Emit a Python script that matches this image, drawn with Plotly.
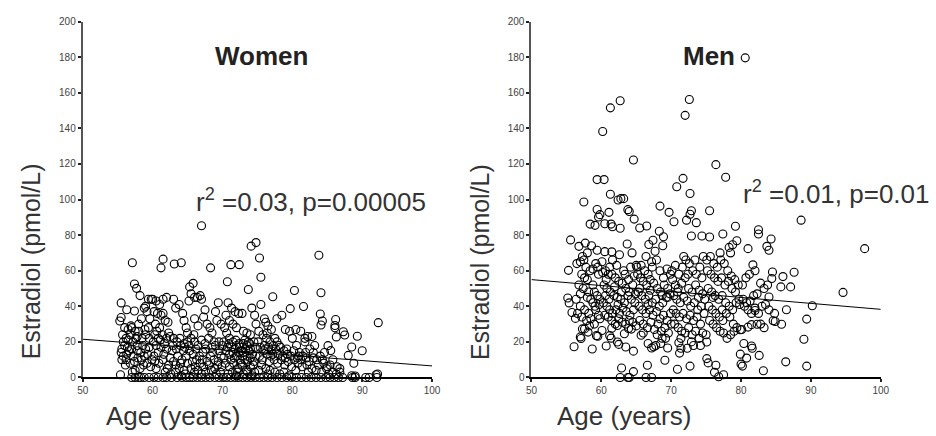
import plotly.graph_objects as go

# ---------------- data ----------------
# Women: (age, estradiol) pairs
women_pts = [
    # outliers / upper points
    (67.0,85.3),(74.1,73.8),(74.8,75.8),(83.8,68.7),(57.1,64.5),(61.5,66.5),(61.2,61.6),
    (63.1,63.8),(64.1,64.5),(68.3,61.6),(71.2,63.4),(72.4,63.4),(75.3,67.1),(75.5,56.3),
    (70.7,53.8),(65.8,52.9),(65.3,50.9),(57.4,52.5),(57.7,50.1),(73.7,49.4),(80.3,48.9),
    (84.1,47.6),(77.2,45.4),(92.3,30.8),(89.3,23.2),(90.0,15.0),(88.5,17.1),(88.0,12.4),
    (88.8,8.0),(81.6,39.9),(79.7,38.7),(84.0,35.7),(84.3,31.7),(84.1,29.5),(86.2,32.6),
    (86.1,29.2),(86.1,27.9),(87.3,25.7),(87.5,23.9),(86.3,22.8),(85.1,17.9),(85.5,15.1),
    (55.3,31.7),(55.5,33.7),(55.5,41.9),(56.3,38.1),(57.4,37.4),(55.4,1.5),
    # 55-60
    (58.2,46),(58.8,39),(59.0,40),(59.4,44),(59.8,44),(59.2,37),(59.6,33),(58.4,33),(58.0,30),
    (56.0,28),(56.5,27),(57.0,28),(57.5,26),(58.0,26),(56.2,22),(55.8,20),(56.5,21),(57.2,20),
    (57.8,18),(58.5,22),(59.0,24),(59.5,22),(55.5,14),(55.8,12),(56.2,10),(56.8,8),(57.2,12),
    (57.8,15),(58.4,10),(58.8,12),(59.2,8),(59.7,6),(56.4,17),(55.6,16),(57.5,4),(58.2,5),
    (59.0,16),(59.5,17),(56.8,24),(57.8,23),(58.6,18),
    (55.7,24),(56.0,18),(56.3,13),(55.6,10),(56.6,15),(57.0,16),(57.4,9),(57.9,11),(58.3,14),
    (58.7,7),(59.3,13),(59.9,10),(56.9,29),(57.6,22),(58.9,27),(59.4,28),(56.1,7),(57.1,3),
    # 60-65
    (60.0,44),(60.5,43),(61.0,41),(61.5,44),(62.0,45),(60.2,37),(60.7,36),(61.2,35),(61.8,32),
    (62.2,31),(60.4,30),(61.0,28),(61.5,36),(63.0,44),(63.3,39),(63.8,41),(64.3,36),(64.5,32),
    (64.8,28),(65.0,25),(60.3,24),(60.8,22),(61.4,24),(62.0,22),(62.5,23),(63.0,22),(63.5,20),
    (64.0,18),(64.5,19),(65.0,20),(60.5,18),(61.2,17),(62.0,16),(62.8,15),(63.6,12),(64.2,10),
    (64.8,12),(60.2,12),(60.9,8),(61.5,10),(62.3,7),(63.0,9),(63.8,5),(64.5,4),(65.0,8),
    (60.5,5),(61.8,3),(62.6,2),(63.3,3),(64.1,1),(64.7,2),
    (60.1,20),(60.6,26),(61.1,21),(61.7,19),(62.3,25),(62.9,18),(63.4,16),(63.9,22),(64.4,15),
    (60.8,14),(61.6,13),(62.5,11),(63.3,7),(64.0,8),(64.6,17),(60.3,9),(62.1,5),
    # 65-70
    (65.5,47),(66.0,45),(66.4,45),(66.8,46),(65.2,43),(67.0,44),(67.5,38),(67.3,34),(67.8,30),
    (68.2,28),(68.5,25),(66.5,29),(66.0,33),(69.0,37),(69.4,42),(69.2,32),(69.8,30),(65.5,22),
    (66.0,20),(66.5,18),(67.0,21),(67.5,19),(68.0,22),(68.5,17),(69.0,18),(69.5,20),(70.0,18),
    (65.3,15),(65.8,13),(66.3,10),(66.8,8),(67.3,6),(67.8,9),(68.3,12),(68.8,10),(69.3,7),
    (69.8,12),(65.5,5),(66.0,3),(66.5,4),(67.0,2),(67.6,3),(68.4,4),(69.1,2),(69.7,3),
    (66.2,16),(67.2,14),(68.6,14),(69.5,15),
    (65.2,18),(65.7,9),(66.1,6),(66.7,12),(67.1,10),(67.6,16),(68.1,7),(68.9,5),(69.4,9),
    (69.9,6),(65.9,24),(68.8,20),
    # 70-75
    (70.8,42),(71.3,39),(71.8,37),(72.3,36),(72.8,36),(74.2,39),(74.6,35),(74.8,30),(70.5,35),
    (71.0,32),(71.5,30),(72.0,28),(70.3,28),(70.6,25),(73.0,26),(73.5,25),(74.0,24),(71.0,22),
    (71.5,20),(72.0,18),(72.5,17),(73.0,19),(73.5,18),(74.0,16),(74.5,20),(70.2,20),(70.5,15),
    (71.0,13),(71.5,14),(72.0,12),(72.5,10),(73.0,14),(73.5,12),(74.0,11),(74.5,9),(70.4,8),
    (71.0,6),(71.6,8),(72.2,5),(72.8,7),(73.4,4),(74.0,6),(74.6,3),(70.8,2),(71.4,3),(72.0,1),
    (73.0,2),(74.2,1),(72.7,15),(73.8,15),(71.3,17),(73.2,21),
    (70.2,11),(70.7,17),(71.2,10),(71.8,16),(72.3,14),(72.4,19),(72.9,12),(73.3,16),(73.6,9),
    (73.9,19),(74.3,13),(74.7,17),(74.8,12),(70.9,19),(71.7,11),(72.6,8),(73.2,10),(74.4,7),
    (71.9,21),(73.7,20),(72.1,3),(73.6,3),
    # 75-80
    (75.5,41),(76.0,33),(76.2,31),(76.5,29),(77.0,27),(77.8,33),(78.5,35),(79.0,27),(75.2,26),
    (75.8,24),(76.3,22),(76.8,20),(77.3,18),(77.8,20),(78.3,17),(78.8,15),(79.3,13),(79.8,12),
    (75.4,17),(75.9,15),(76.4,13),(76.9,12),(77.4,10),(77.9,8),(78.4,10),(78.9,7),(79.4,9),
    (79.9,6),(75.6,7),(76.2,5),(76.8,4),(77.5,3),(78.2,2),(78.8,3),(79.5,1),(76.0,18),(77.0,15),
    (78.0,13),(79.0,11),(79.6,26),(80.0,22),
    (75.1,20),(75.3,12),(75.7,10),(76.1,16),(76.6,17),(76.7,9),(77.2,13),(77.6,16),(78.1,18),
    (78.6,12),(79.2,16),(76.4,25),(77.5,22),(75.2,4),(76.5,2),
    # 80-87
    (80.5,27),(81.2,26),(81.8,22),(82.2,23),(82.8,23),(80.6,18),(81.0,14),(81.5,12),(82.0,11),
    (82.5,16),(83.0,14),(83.5,10),(84.0,12),(84.5,8),(85.0,6),(80.3,10),(80.8,8),(81.4,6),
    (82.1,7),(82.8,5),(83.4,4),(84.2,3),(85.2,2),(85.8,3),(86.3,2),(86.8,3),(85.8,10),(86.4,6),
    (86.8,5),(81.8,20),(83.2,18),(84.6,14),(80.9,12),
    (80.2,15),(80.7,11),(81.2,10),(81.9,14),(82.4,9),(83.0,11),(83.7,7),(84.3,10),(84.9,5),
    (85.4,7),(80.5,4),(82.3,3),
    # 88+
    (88.5,1),(89.0,0.8),(92.0,1.5),(92.2,2),
]
# Women measured at zero (row along the axis)
women_zero_ages = [57.0,57.5,58.0,58.3,58.8,59.5,60.2,60.8,61.5,62.0,62.7,63.5,64.2,64.8,65.3,
                   65.8,66.4,67.0,67.6,68.2,68.9,69.5,70.1,70.6,71.2,71.8,72.3,72.9,73.5,74.1,
                   74.7,75.3,75.9,76.5,77.1,77.8,78.5,79.2,79.9,80.6,81.3,82.0,82.7,83.4,84.1,
                   84.8,85.4,86.0,86.6,87.2,88.6,89.0,90.5,91.0,92.1]

men_pts = [
    # outliers / sparse points
    (80.6,179.6),(72.6,156.2),(62.7,155.5),(61.3,151.5),(72.0,147.3),(60.2,138.2),(64.6,122.2),
    (76.4,119.6),(77.8,112.5),(59.4,111.2),(60.4,111.2),(71.7,111.9),(70.8,107.2),(61.3,103.0),
    (72.7,103.4),(62.4,99.7),(62.8,100.5),(63.2,100.5),(57.5,98.6),(63.8,94.3),(64.0,93.3),
    (59.4,94.4),(68.4,96.3),(69.7,92.8),(75.5,93.7),(72.9,93.7),(72.7,91.7),(59.8,91.5),
    (59.6,90.2),(61.1,92.8),(64.7,89.0),(72.2,88.4),(70.4,87.5),(73.6,87.0),(66.5,85.1),
    (65.5,84.0),(88.6,88.4),(97.7,72.4),(94.6,47.8),(58.4,86.2),(59.1,85.5),(60.5,86.4),
    (61.4,86.2),(61.6,84.7),(62.7,83.9),(55.6,77.3),(56.8,73.7),(57.7,75.5),(58.6,74.0),
    (59.4,71.5),(60.5,70.7),(61.5,70.6),(68.3,82.2),(68.9,79.1),(67.4,77.1),(68.8,74.0),
    (66.8,74.7),(67.7,70.9),(74.4,79.5),(75.5,78.9),(72.9,79.5),(77.4,80.6),(79.2,85.0),
    (79.4,76.8),(82.5,83.0),(82.5,80.6),(84.3,77.8),(81.0,72.4),(83.7,73.7),(84.0,71.5),
    (78.3,73.1),(78.8,74.6),(81.7,63.3),(84.5,59.3),(84.4,55.6),(86.0,56.7),(87.6,59.1),
    (87.1,50.9),(85.7,50.9),(84.0,45.2),(90.2,40.3),(89.4,32.8),(89.0,21.5),(89.4,6.4),
    (86.4,8.8),(83.2,3.8),(86.5,38.1),(85.8,29.9),(84.6,31.9),(84.9,31.5),(82.3,29.9),
    (81.5,29.7),(81.0,28.3),(82.0,37.6),(82.6,12.4),(81.5,17.7),(81.6,16.4),(80.4,19.1),
    (80.8,10.9),(79.9,13.1),(80.0,7.5),(80.2,6.4),(79.9,26.8),(76.8,0.4),(77.5,1.5),(76.4,6.9),
    (76.2,2.9),(75.1,10.6),(75.3,8.2),(72.7,6.4),(70.9,4.6),(69.1,9.7),(66.6,6.9),(64.6,3.3),
    (62.9,5.3),(62.7,0),(63.8,0),(64.0,0),(66.4,0),(67.2,0),(56.1,17.3),(58.7,16.0),(60.7,17.7),
    (64.6,14.8),(62.3,19.9),(62.5,18.6),(63.5,17.1),(55.2,44.7),(55.4,41.9),(55.3,60.2),
    (55.8,36.5),(56.3,33.2),(57.0,22.8),(57.1,21.9),(57.3,27.3),(57.6,27.3),(58.1,25.5),
    (59.3,23.5),(59.5,23.2),(60.1,26.4),(61.2,23.5),(61.4,22.1),(61.5,27.7),(62.3,29.2),
    (63.3,24.6),(63.9,27.5),(64.3,27.2),(65.7,23.7),(66.7,19.1),(67.2,16.6),(67.5,17.3),
    (67.8,18.0),(68.5,19.1),(69.5,16.6),(68.7,22.1),(71.1,19.5),(71.2,13.7),(71.4,16.4),
    (72.3,16.4),(73.2,18.0),(74.2,18.0),(75.1,19.9),
    # 56-60 dense
    (56.5,64),(57.0,65),(57.5,66),(57.8,62),(57.2,58),(57.6,56),(58.0,55),(58.4,60),(58.8,61),
    (59.2,64),(59.6,58),(56.8,52),(57.4,50),(58.2,48),(58.8,52),(59.4,46),(59.8,44),(56.4,44),
    (57.0,40),(57.6,38),(58.2,36),(58.8,42),(59.2,38),(59.6,35),(56.6,36),(57.2,34),(57.9,32),
    (58.5,33),(59.1,40),(59.7,41),(58.0,45),(59.0,48),(58.5,44),(57.0,47),(59.5,62),(58.0,70),
    (57.3,68),(59.0,30),(58.3,29),(59.8,33),
    # 60-65
    (60.2,59),(60.6,60),(61.0,58),(61.5,58),(62.0,56),(62.5,54),(63.0,53),(63.5,50),(64.0,48),
    (64.5,52),(60.4,52),(60.8,50),(61.3,48),(61.8,46),(62.3,45),(62.8,44),(63.3,42),(63.8,46),
    (64.3,44),(64.8,42),(60.3,42),(60.8,40),(61.2,38),(61.6,36),(62.1,38),(62.6,36),(63.1,39),
    (63.6,37),(64.1,35),(64.6,38),(60.5,35),(61.0,34),(61.5,32),(62.0,30),(62.5,33),(63.0,31),
    (63.5,30),(64.0,32),(64.5,31),(65.0,29),(60.1,65),(61.2,62),(62.2,63),(63.2,60),(64.2,62),
    (65.0,63),(63.7,75),(64.4,70),(62.6,69),(61.6,66),(60.7,55),(61.9,51),(62.9,48),(63.9,55),
    (64.7,57),(60.6,46),(61.1,44),(63.4,58),(64.9,47),(62.4,41),
    # 65-70
    (65.2,58),(65.6,56),(66.0,54),(66.5,52),(67.0,55),(67.5,53),(68.0,50),(68.5,48),(69.0,52),
    (69.5,50),(65.3,48),(65.8,46),(66.3,44),(66.8,46),(67.3,42),(67.8,44),(68.3,40),(68.8,42),
    (69.3,45),(69.8,47),(65.4,40),(65.9,38),(66.4,36),(66.9,38),(67.4,35),(67.9,37),(68.4,33),
    (68.9,35),(69.4,32),(69.9,36),(65.5,32),(66.0,30),(66.6,28),(67.1,31),(67.6,27),(68.1,30),
    (68.6,26),(69.1,28),(69.6,25),(70.0,30),(65.1,62),(65.7,63),(66.2,60),(66.7,58),(67.3,62),
    (67.9,66),(68.4,60),(68.9,56),(69.4,61),(69.9,58),(66.4,68),(67.2,65),(69.5,45),(66.0,25),
    (68.0,24),(69.2,22),(65.5,50),(67.0,49),(68.7,46),(66.7,41),
    # 70-75
    (70.2,55),(70.6,52),(71.0,50),(71.5,53),(72.0,56),(72.5,50),(73.0,48),(73.5,52),(74.0,49),
    (74.5,47),(70.4,46),(70.8,44),(71.3,42),(71.8,45),(72.3,43),(72.8,40),(73.3,42),(73.8,38),
    (74.3,40),(74.8,44),(70.3,38),(70.7,36),(71.2,34),(71.7,36),(72.2,33),(72.7,35),(73.2,32),
    (73.7,34),(74.2,30),(74.7,36),(70.5,30),(71.0,28),(71.5,26),(72.0,25),(72.5,28),(73.0,24),
    (73.5,26),(74.0,22),(74.5,25),(75.0,24),(70.1,60),(70.6,63),(71.1,58),(71.6,62),(72.1,66),
    (72.6,64),(73.1,60),(73.6,58),(74.1,62),(74.6,68),(71.8,68),(73.4,66),(72.4,58),(74.4,56),
    (70.9,48),(73.9,45),(71.4,22),(72.9,20),
    # 75-80
    (75.2,60),(75.7,58),(76.2,56),(76.7,54),(77.2,56),(77.7,52),(78.2,54),(78.7,50),(79.2,48),
    (79.7,44),(75.3,50),(75.8,48),(76.3,46),(76.8,44),(77.3,46),(77.8,42),(78.3,40),(78.8,38),
    (79.3,42),(79.8,41),(75.4,40),(75.9,38),(76.4,36),(76.9,34),(77.4,32),(77.9,36),(78.4,34),
    (78.9,30),(79.4,28),(75.5,32),(76.0,30),(76.5,28),(77.0,26),(77.5,25),(78.0,22),(78.5,24),
    (79.0,26),(75.1,66),(75.6,68),(76.1,64),(76.6,62),(77.1,66),(77.6,64),(78.1,60),(78.6,57),
    (79.1,55),(79.6,52),(77.0,70),(78.5,70),(76.0,45),(77.3,38),
    # 80-85
    (80.3,44),(80.8,42),(81.3,43),(81.8,46),(82.3,47),(82.8,53),(83.3,50),(83.8,52),(80.5,40),
    (81.0,38),(81.5,36),(82.0,39),(82.5,36),(83.0,40),(83.5,41),(84.0,38),(80.2,52),(80.7,56),
    (81.2,58),(82.0,60),(80.1,27),(82.8,30),(83.3,28),(84.8,36),
]

women_age = [a for a, _ in women_pts] + women_zero_ages
women_e2 = [v for _, v in women_pts] + [0.0] * len(women_zero_ages)
men_age = [a for a, _ in men_pts]
men_e2 = [v for _, v in men_pts]

fit_x = [50, 100]
women_fit = [21.5, 6.5]
men_fit = [55.0, 38.3]

x_ticks = [50, 60, 70, 80, 90, 100]
y_ticks = [0, 20, 40, 60, 80, 100, 120, 140, 160, 180, 200]
titles = ["Women", "Men"]
stats = ["r<sup>2</sup> =0.03, p=0.00005", "r<sup>2</sup> =0.01, p=0.01"]

# ---------------- figure ----------------
W, H = 936, 436
FONT = "Liberation Sans, Arial, sans-serif"

fig = go.Figure()
marker = dict(symbol="circle-open", size=8, color="black", line=dict(width=1.1, color="black"))

fig.add_trace(go.Scatter(x=women_age, y=women_e2, mode="markers", marker=marker,
                         cliponaxis=False, xaxis="x", yaxis="y", showlegend=False))
fig.add_trace(go.Scatter(x=fit_x, y=women_fit, mode="lines", line=dict(color="black", width=1),
                         xaxis="x", yaxis="y", showlegend=False))
fig.add_trace(go.Scatter(x=men_age, y=men_e2, mode="markers", marker=marker,
                         cliponaxis=False, xaxis="x2", yaxis="y2", showlegend=False))
fig.add_trace(go.Scatter(x=fit_x, y=men_fit, mode="lines", line=dict(color="black", width=1),
                         xaxis="x2", yaxis="y2", showlegend=False))

def px(x):
    return x / W

def py(y):
    return 1 - y / H

ybot, ytop = py(382), py(16)
doms = [(px(78), px(433)), (px(534), px(889))]

tickfont = dict(family=FONT, size=10, color="#444")
common_x = dict(range=[50, 100], tickvals=x_ticks, showgrid=False, zeroline=False,
                showline=True, linecolor="black", linewidth=1.5, ticks="outside",
                ticklen=3, tickwidth=2, tickcolor="#222", tickfont=tickfont)
common_y = dict(range=[0, 200], tickvals=y_ticks, showgrid=False, zeroline=False,
                showline=True, linecolor="#555", linewidth=2, ticks="outside",
                ticklen=3, tickwidth=2, tickcolor="#222", tickfont=tickfont)

fig.update_layout(
    width=W, height=H, margin=dict(l=0, r=0, t=0, b=0),
    plot_bgcolor="white", paper_bgcolor="white",
    xaxis=dict(domain=list(doms[0]), anchor="y", **common_x),
    yaxis=dict(domain=[ybot, ytop], anchor="x", **common_y),
    xaxis2=dict(domain=list(doms[1]), anchor="y2", **common_x),
    yaxis2=dict(domain=[ybot, ytop], anchor="x2", **common_y),
)

ann = []
title_x = [260, 714]
stat_x = [191, 747]
stat_y = [200, 192]
ylab_x = [25, 481]
xlab_x = [170, 628]
for i in range(2):
    ann.append(dict(text="<b>%s</b>" % titles[i], x=px(title_x[i]), y=py(51), xref="paper",
                    yref="paper", showarrow=False, xanchor="center", yanchor="middle",
                    font=dict(family=FONT, size=26, color="#222")))
    ann.append(dict(text=stats[i], x=px(stat_x[i]), y=py(stat_y[i]), xref="paper", yref="paper",
                    showarrow=False, xanchor="left", yanchor="middle",
                    font=dict(family=FONT, size=26, color="#333")))
    ann.append(dict(text="Estradiol (pmol/L)", x=px(ylab_x[i]), y=py(263), xref="paper",
                    yref="paper", showarrow=False, textangle=-90, xanchor="center",
                    yanchor="middle", font=dict(family=FONT, size=25, color="#333")))
    ann.append(dict(text="Age (years)", x=px(xlab_x[i]), y=py(422), xref="paper", yref="paper",
                    showarrow=False, xanchor="center", yanchor="middle",
                    font=dict(family=FONT, size=26, color="#333")))
fig.update_layout(annotations=ann)

fig.write_html("out.html")
